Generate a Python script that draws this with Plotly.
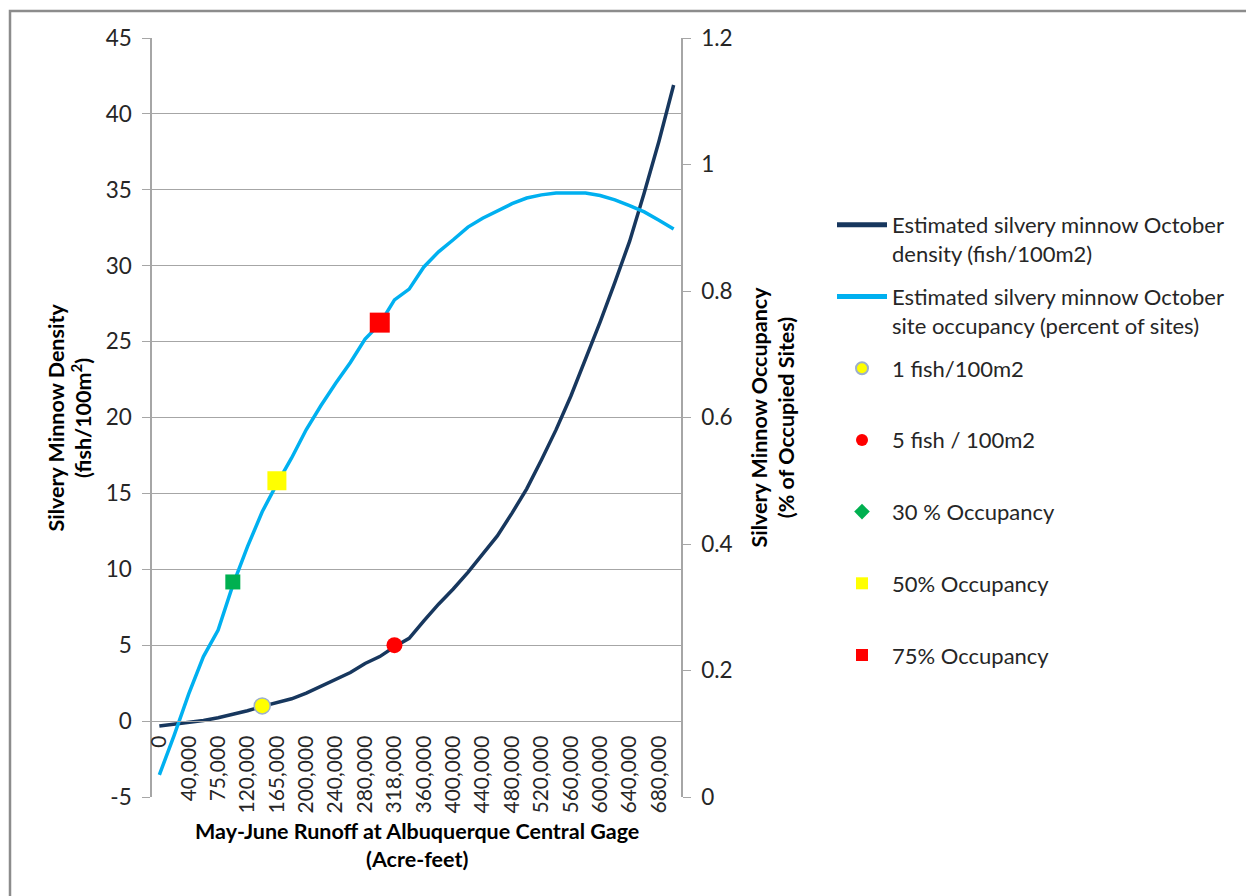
import plotly.graph_objects as go

# ---- data ----
categories = ["0", "20,000", "40,000", "60,000", "75,000", "100,000", "120,000", "140,000",
              "165,000", "180,000", "200,000", "220,000", "240,000", "260,000", "280,000",
              "300,000", "318,000", "340,000", "360,000", "380,000", "400,000", "420,000",
              "440,000", "460,000", "480,000", "500,000", "520,000", "540,000", "560,000",
              "580,000", "600,000", "620,000", "640,000", "660,000", "680,000", "700,000"]
tick_labels = categories[::2]

density = [-0.33, -0.22, -0.10, 0.04, 0.22, 0.45, 0.68, 0.97, 1.20, 1.47, 1.85, 2.30,
           2.70, 3.20, 3.80, 4.25, 4.90, 5.45, 6.60, 7.70, 8.70, 9.80, 11.0, 12.2,
           13.7, 15.3, 17.2, 19.2, 21.4, 23.8, 26.3, 28.9, 31.6, 34.8, 38.2, 41.9]

occupancy = [0.035, 0.097, 0.163, 0.222, 0.264, 0.335, 0.396, 0.451, 0.495, 0.536, 0.581, 0.619,
             0.654, 0.687, 0.724, 0.748, 0.786, 0.803, 0.838, 0.862, 0.881, 0.901, 0.915, 0.926,
             0.938, 0.947, 0.952, 0.955, 0.955, 0.955, 0.951, 0.944, 0.935, 0.925, 0.912, 0.898]

density_ticks = [-5, 0, 5, 10, 15, 20, 25, 30, 35, 40, 45]
density_tick_text = ["-5", "0", "5", "10", "15", "20", "25", "30", "35", "40", "45"]
occupancy_ticks = [0, 0.2, 0.4, 0.6, 0.8, 1.0, 1.2]
occupancy_tick_text = ["0", "0.2", "0.4", "0.6", "0.8", "1", "1.2"]

fish1_x, fish1_y = ["140,000"], [1.0]
fish5_x, fish5_y = ["318,000"], [5.0]
occ30_x, occ30_y = ["100,000"], [0.34]
occ50_x, occ50_y = ["165,000"], [0.50]
occ75_x, occ75_y = ["300,000"], [0.75]

names = ["Estimated silvery minnow October<br>density (fish/100m2)",
         "Estimated silvery minnow October<br>site occupancy (percent of sites)",
         "1 fish/100m2<br> ", "5 fish / 100m2<br> ", "30 % Occupancy<br> ",
         "50% Occupancy<br> ", "75% Occupancy<br> "]

FONT = "Lato"
FS = 22.5
TXT = "#262626"
GRID = "#a6a6a6"

fig = go.Figure()
fig.add_trace(go.Scatter(x=categories, y=density, mode="lines", name=names[0],
                         line=dict(color="#17375E", width=3.5), yaxis="y",
                         legendgroup="g0", legendrank=1))
fig.add_trace(go.Scatter(x=categories, y=occupancy, mode="lines", name=names[1],
                         line=dict(color="#00B0F0", width=3.5), yaxis="y2",
                         legendgroup="g1", legendrank=2))
fig.add_trace(go.Scatter(x=fish1_x, y=fish1_y, mode="markers", name=names[2],
                         marker=dict(symbol="circle", size=16, color="#FFFF00",
                                     line=dict(color="#9DB0CC", width=1.5)),
                         yaxis="y", legendgroup="g2", legendrank=3))
fig.add_trace(go.Scatter(x=fish5_x, y=fish5_y, mode="markers", name=names[3],
                         marker=dict(symbol="circle", size=16, color="#FF0000"),
                         yaxis="y", legendgroup="g3", legendrank=4))
fig.add_trace(go.Scatter(x=occ30_x, y=occ30_y, mode="markers", name=names[4],
                         marker=dict(symbol="square", size=15, color="#00B050"),
                         yaxis="y2", legendgroup="g4", showlegend=False))
fig.add_trace(go.Scatter(x=[None], y=[None], mode="markers", name=names[4],
                         marker=dict(symbol="diamond", size=13, color="#00B050"),
                         yaxis="y2", legendgroup="g4", legendrank=5))
fig.add_trace(go.Scatter(x=occ50_x, y=occ50_y, mode="markers", name=names[5],
                         marker=dict(symbol="square", size=19, color="#FFFF00"),
                         yaxis="y2", legendgroup="g5", legendrank=6))
fig.add_trace(go.Scatter(x=occ75_x, y=occ75_y, mode="markers", name=names[6],
                         marker=dict(symbol="square", size=20, color="#FF0000"),
                         yaxis="y2", legendgroup="g6", legendrank=7))

W, H = 1246, 896
L, R, T, B = 152, 565, 38, 99
pw, ph = W - L - R, H - T - B

def px_x(px):
    return (px - L) / pw

def px_y(py):
    return (H - B - py) / ph

fig.update_layout(
    width=W, height=H,
    margin=dict(l=L, r=R, t=T, b=B, autoexpand=False),
    paper_bgcolor="white", plot_bgcolor="white",
    font=dict(family=FONT, size=FS, color=TXT),
    showlegend=True,
    xaxis=dict(type="category", categoryorder="array", categoryarray=categories,
               range=[-0.5, len(categories) - 0.5],
               tickmode="array", tickvals=tick_labels, ticktext=tick_labels,
               tickangle=-90, tickfont=dict(family=FONT, size=21, color=TXT),
               anchor="free", position=0.1, showgrid=False, zeroline=False,
               showline=True, linecolor=GRID, linewidth=1.3, ticks="",
               ticklabelstandoff=5),
    yaxis=dict(range=[-5, 45], tickmode="array", tickvals=density_ticks,
               ticktext=density_tick_text,
               showgrid=True, gridcolor=GRID, gridwidth=1.3, zeroline=False,
               showline=True, linecolor=GRID, linewidth=1.5,
               ticks="outside", ticklen=8, tickcolor=GRID, tickwidth=1.3,
               tickfont=dict(family=FONT, size=FS, color=TXT),
               ticklabelstandoff=6),
    yaxis2=dict(range=[0, 1.2], tickmode="array",
                tickvals=occupancy_ticks, ticktext=occupancy_tick_text,
                overlaying="y", side="right", anchor="x",
                showgrid=False, zeroline=False,
                showline=True, linecolor=GRID, linewidth=1.5,
                ticks="outside", ticklen=8, tickcolor=GRID, tickwidth=1.3,
                tickfont=dict(family=FONT, size=FS, color=TXT),
                ticklabelstandoff=6),
    legend=dict(x=px_x(832), y=px_y(204), xanchor="left", yanchor="top",
                font=dict(family=FONT, size=22, color=TXT),
                tracegroupgap=11.5, valign="top", itemsizing="constant",
                itemwidth=50, bgcolor="rgba(0,0,0,0)"),
    annotations=[
        dict(text="<b>Silvery Minnow Density<br>(fish/100m<sup>2</sup>)</b>",
             xref="paper", yref="paper", x=px_x(69), y=0.5, textangle=-90,
             xanchor="center", yanchor="middle",
             showarrow=False, font=dict(family=FONT, size=21.5, color="#000")),
        dict(text="<b>Silvery Minnow Occupancy<br>(% of Occupied Sites)</b>",
             xref="paper", yref="paper", x=px_x(772), y=0.5, textangle=-90,
             xanchor="center", yanchor="middle",
             showarrow=False, font=dict(family=FONT, size=21.5, color="#000")),
        dict(text="<b>May-June Runoff at Albuquerque Central Gage<br>(Acre-feet)</b>",
             xref="paper", yref="paper", x=0.5, y=px_y(845), yanchor="middle",
             xanchor="center",
             showarrow=False, font=dict(family=FONT, size=21.5, color="#000")),
    ],
    shapes=[dict(type="rect", xref="paper", yref="paper",
                 x0=px_x(10), x1=px_x(1300), y0=px_y(920), y1=px_y(11),
                 line=dict(color="#8c8c8c", width=2.5), fillcolor="rgba(0,0,0,0)",
                 layer="below")],
)

fig.write_html("out.html")
